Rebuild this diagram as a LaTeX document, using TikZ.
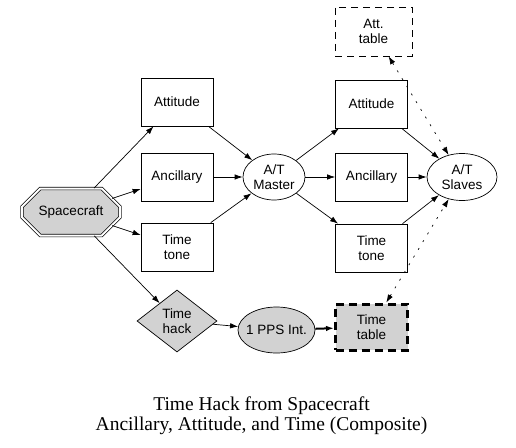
\documentclass[tikz,border=0pt]{standalone}
\usepackage{fontspec}
\setmainfont{Liberation Serif}
\setsansfont{Liberation Sans}
\usetikzlibrary{arrows.meta,positioning,shapes.geometric,shapes.misc}

\begin{document}
\begin{tikzpicture}[>={Latex[length=8pt,width=5.5pt]},on grid,line width=0.7pt,
 font=\sffamily\fontsize{13.5}{15}\selectfont,
 box/.style={draw,align=center,minimum width=72pt,minimum height=48pt},
 oval/.style={draw,ellipse,align=center,inner sep=0pt},
 grey/.style={fill=gray!35},
 link/.style={<->,dash pattern=on 2pt off 7pt}]
\useasboundingbox (-177pt,177pt) rectangle (339pt,-270pt);
% sources on the left
\node[box] (anc1) {Ancillary};
\node[box,above=75pt of anc1] (att1) {Attitude};
\node[box,below=70pt of anc1] (tone1) {Time\\tone};
\node[draw,grey,double,double distance=2pt,chamfered rectangle,
 chamfered rectangle xsep=24pt,chamfered rectangle ysep=12pt,
 minimum width=98pt,minimum height=47pt,inner sep=0pt,
 below left=35pt and 106pt of anc1] (craft) {Spacecraft};
% master and its outputs
\node[oval,minimum width=62pt,minimum height=46pt,right=97pt of anc1] (master) {A/T\\Master};
\node[box,right=97.5pt of master] (anc2) {Ancillary};
\node[box,above=73pt of anc2] (att2) {Attitude};
\node[box,below=71pt of anc2] (tone2) {Time\\tone};
\node[oval,minimum width=70pt,minimum height=47pt,right=90.5pt of anc2] (slaves) {A/T\\Slaves};
\node[draw,dash pattern=on 7pt off 5pt,align=center,minimum width=77pt,minimum height=49pt,
 above right=72.5pt and 2pt of att2] (atttab) {Att.\\table};
% time hack chain
\node[draw,grey,diamond,aspect=1.3,inner sep=0pt,align=center,minimum width=80pt,minimum height=62pt,
 below=74pt of tone1] (hack) {Time\\hack};
\node[oval,grey,inner xsep=-4pt,minimum width=77pt,minimum height=46pt,
 below right=9pt and 99.5pt of hack] (pps) {1 PPS Int.};
\node[draw,grey,line width=3pt,dash pattern=on 8pt off 5pt,align=center,minimum width=72pt,minimum height=46pt,
 below=79pt of tone2] (timetab) {Time\\table};
\node[font=\rmfamily\fontsize{19.5}{20}\selectfont,align=center,
 below right=94.5pt and 84.5pt of hack] (title) {Time Hack from Spacecraft\\Ancillary, Attitude, and Time (Composite)};

\draw[->] (craft) -- (att1); \draw[->] (craft) -- (anc1);
\draw[->] (craft) -- (tone1); \draw[->] (craft) -- (hack);
\draw[->] (att1) -- (master); \draw[->] (anc1) -- (master); \draw[->] (tone1) -- (master);
\draw[->] (master) -- (att2); \draw[->] (master) -- (anc2); \draw[->] (master) -- (tone2);
\draw[->] (att2) -- (slaves); \draw[->] (anc2) -- (slaves); \draw[->] (tone2) -- (slaves);
\draw[link] (atttab) -- (slaves);
\draw[link] (timetab) -- (slaves);
\draw[->] (hack) -- (pps);
\draw[->,line width=2pt] (pps) -- (timetab);
\end{tikzpicture}
\end{document}
